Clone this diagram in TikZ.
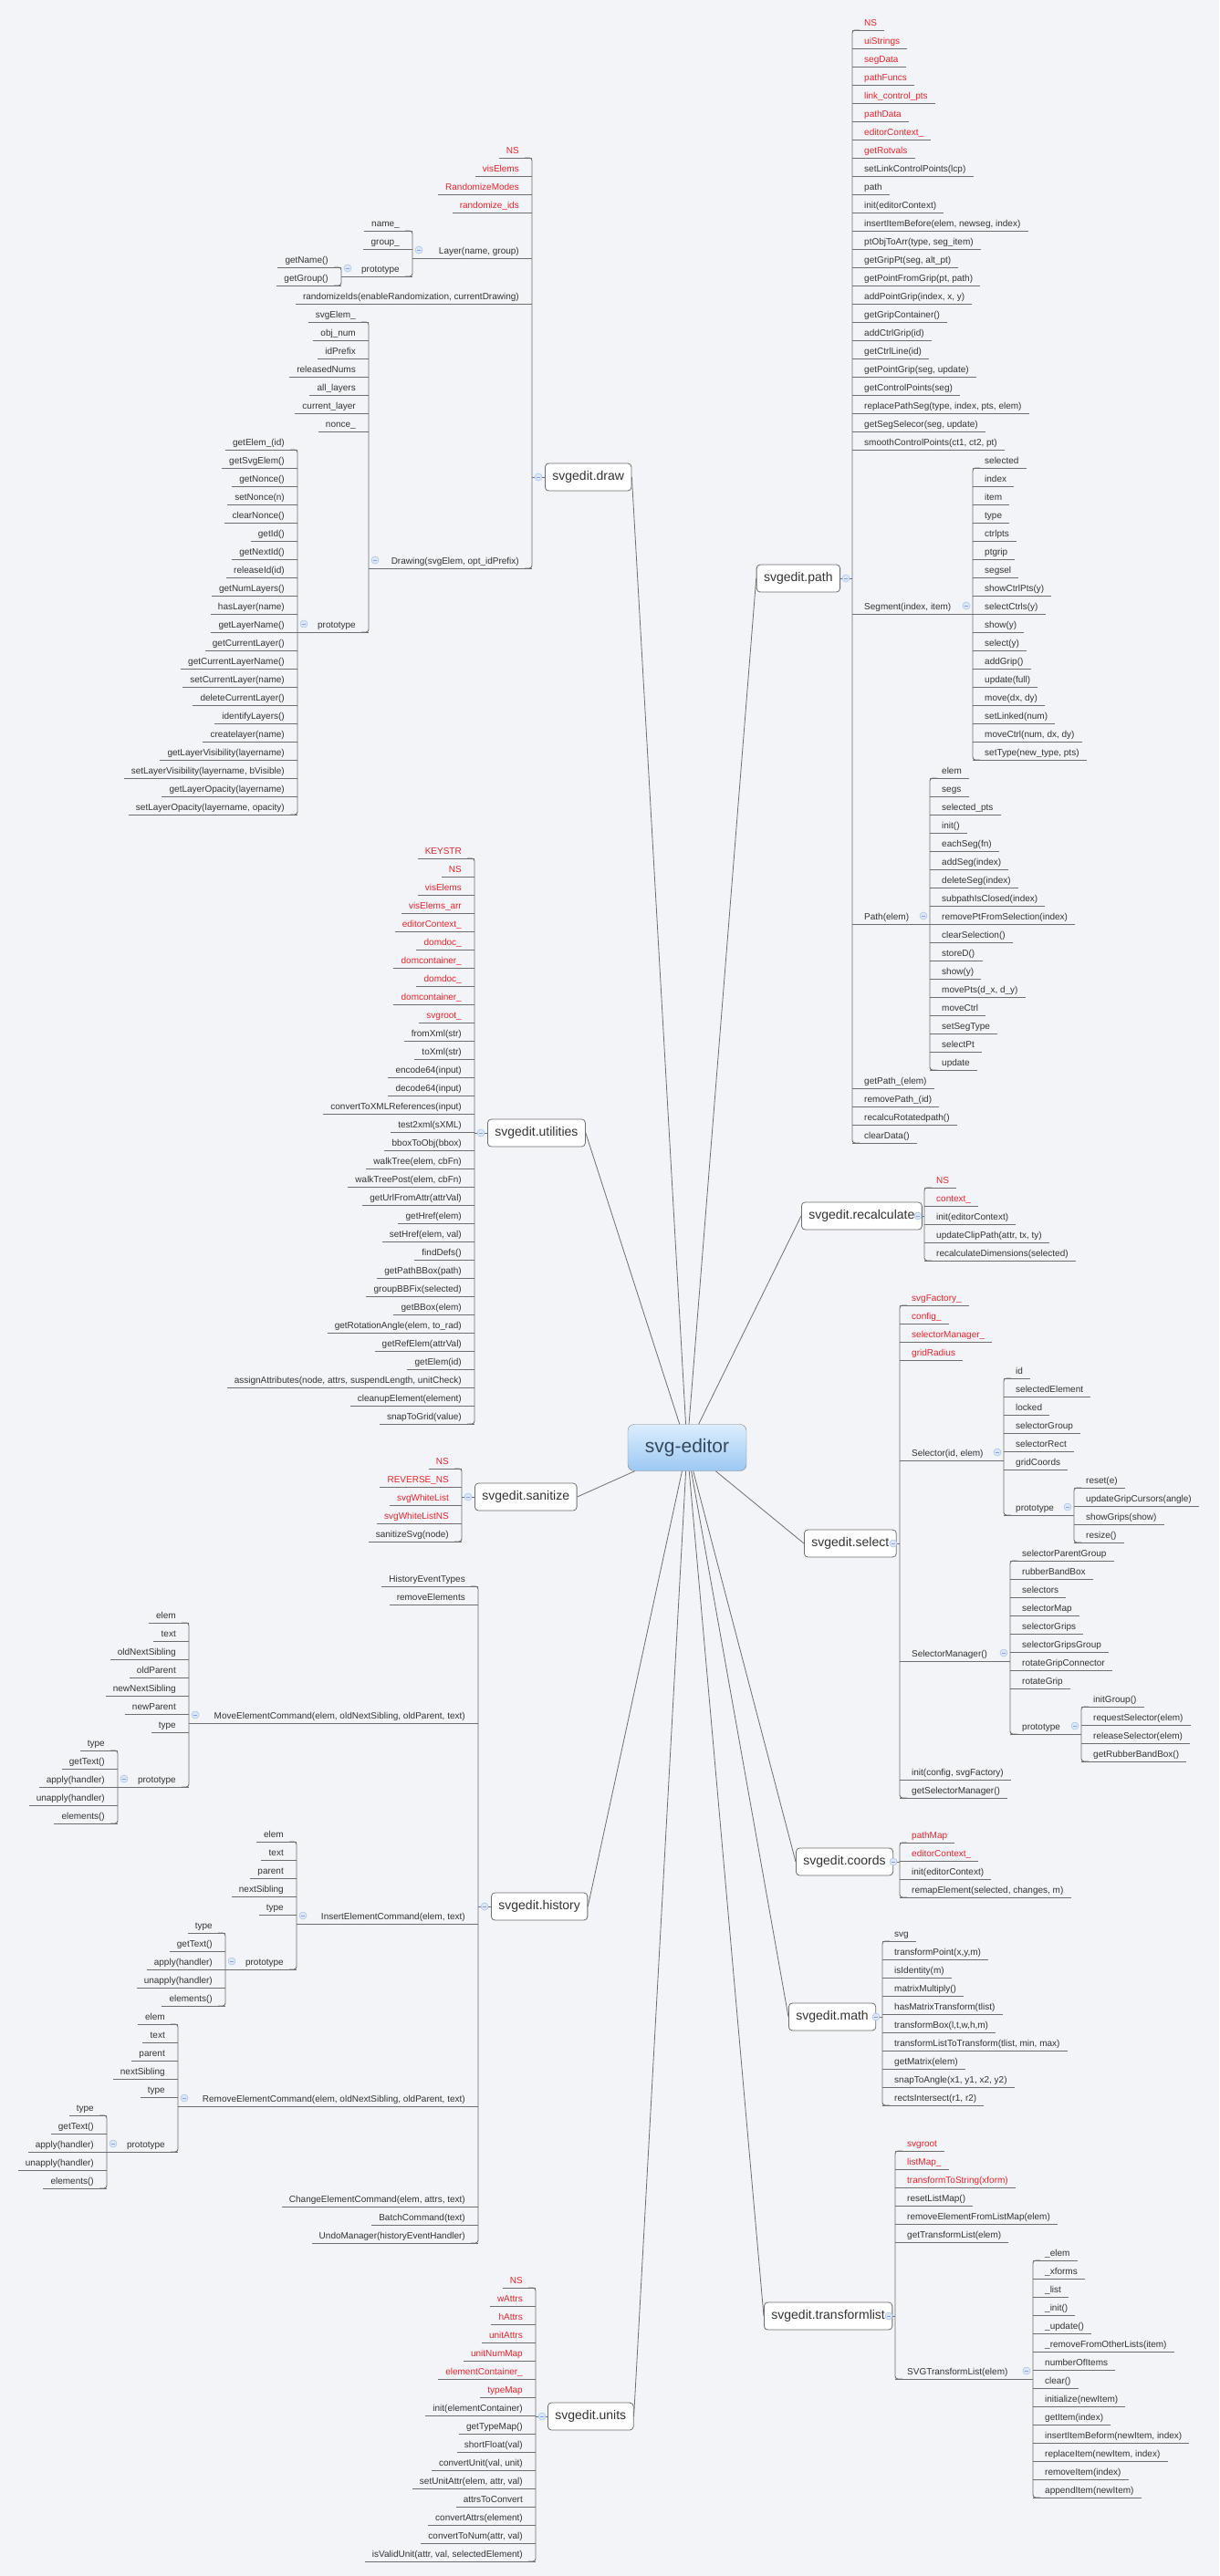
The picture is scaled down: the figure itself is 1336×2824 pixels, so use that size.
\documentclass[tikz,border=0pt]{standalone}
\usepackage{fontspec}
\setmainfont{Liberation Sans}
\usetikzlibrary{calc}
\definecolor{bg}{HTML}{F3F4F8}
\definecolor{itemred}{HTML}{E3242B}
\definecolor{itemblack}{HTML}{333333}
\definecolor{lncol}{HTML}{6E6E6E}
\definecolor{mkfill}{HTML}{DCE8F7}
\definecolor{mkdraw}{HTML}{A9C5E8}
\definecolor{roottop}{HTML}{DCEEFE}
\definecolor{rootbot}{HTML}{9CC8F2}
\definecolor{roottext}{HTML}{34485C}
\tikzset{
  ln/.style={draw=lncol,line width=0.9pt},
  item/.style={inner sep=0pt,font=\fontsize{10}{12}\selectfont},
  mk/.style={circle,minimum size=8pt,inner sep=0pt,fill=mkfill,draw=mkdraw,line width=0.6pt,
    path picture={\draw[mkdraw!80!blue,line width=0.7pt] ([xshift=-2.3pt]path picture bounding box.center) -- ([xshift=2.3pt]path picture bounding box.center);}},
  branch/.style={draw=lncol,fill=white,rounded corners=4pt,minimum height=30pt,inner xsep=8pt,font=\fontsize{14}{16}\selectfont,text=itemblack,line width=0.8pt},
  rootbox/.style={draw=black!50,rounded corners=7pt,minimum width=130pt,minimum height=51pt,top color=roottop,bottom color=rootbot,font=\fontsize{21}{24}\selectfont,text=roottext}
}
\newcommand\RL[5]{%
  \foreach \t [count=\i from 0] in {#5}{%
    \pgfmathtruncatemacro\uu{#3+20*\i}%
    \ifnum\i<#4\relax\colorlet{tc}{itemred}\else\colorlet{tc}{itemblack}\fi
    \node[item,text=tc,anchor=base west] (#1-\i) at (#2+13,\uu-5) {\t};
    \draw[ln] (#2,\uu) -- ($(#1-\i.base east)+(8,5)$);
  }}
\newcommand\LL[5]{%
  \foreach \t [count=\i from 0] in {#5}{%
    \pgfmathtruncatemacro\uu{#3+20*\i}%
    \ifnum\i<#4\relax\colorlet{tc}{itemred}\else\colorlet{tc}{itemblack}\fi
    \node[item,text=tc,anchor=base east] (#1-\i) at (#2-14,\uu-5) {\t};
    \draw[ln] (#2,\uu) -- ($(#1-\i.base west)+(-8,5)$);
  }}
\newcommand\Rp[5]{%
  \node[item,text=itemblack,anchor=base west] (#1) at (#2+13,#3-5) {#4};
  \draw[ln] (#2,#3) -- (#5,#3);
  \node[mk] (#1m) at (#5-7,#3-9) {};}
\newcommand\Lp[5]{%
  \node[item,text=itemblack,anchor=base east] (#1) at (#2-14,#3-5) {#4};
  \draw[ln] (#5,#3) -- (#2,#3);
  \node[mk] (#1m) at (#5+7,#3-9) {};}
\newcommand\BrR[3]{\draw[ln,rounded corners=3pt] (#1+8,#2) -- (#1,#2) -- (#1,#3) -- (#1+8,#3);}
\newcommand\BrL[3]{\draw[ln,rounded corners=3pt] (#1-8,#2) -- (#1,#2) -- (#1,#3) -- (#1-8,#3);}
\begin{document}
\begin{tikzpicture}[x=1pt,y=-1pt]
\useasboundingbox (0,0) rectangle (1336,2824);
\fill[bg] (0,0) rectangle (1336,2824);
\node[rootbox] (root) at (753,1587) {svg-editor};

% ---------- svgedit.draw (left)
\node[branch,anchor=west] (draw) at (597,523) {svgedit.draw};
\BrL{583}{173}{623}
\LL{d}{583}{173}{4}{NS,visElems,RandomizeModes,randomize\_ids}
\Lp{dlayer}{583}{283}{Layer(name, group)}{452}
\BrL{452}{253}{303}
\LL{dl}{452}{253}{0}{name\_,group\_}
\Lp{dlp}{452}{303}{prototype}{374}
\BrL{374}{293}{313}
\LL{dlpp}{374}{293}{0}{getName(),getGroup()}
\LL{dr}{583}{333}{0}{{randomizeIds(enableRandomization, currentDrawing)}}
\Lp{ddr}{583}{623}{Drawing(svgElem, opt\_idPrefix)}{404}
\BrL{404}{353}{693}
\LL{ddc}{404}{353}{0}{svgElem\_,obj\_num,idPrefix,releasedNums,all\_layers,current\_layer,nonce\_}
\Lp{ddp}{404}{693}{prototype}{326}
\BrL{326}{493}{893}
\LL{ddpp}{326}{493}{0}{getElem\_(id),getSvgElem(),getNonce(),setNonce(n),clearNonce(),getId(),getNextId(),releaseId(id),getNumLayers(),hasLayer(name),getLayerName(),getCurrentLayer(),getCurrentLayerName(),setCurrentLayer(name),deleteCurrentLayer(),identifyLayers(),createlayer(name),getLayerVisibility(layername),{setLayerVisibility(layername, bVisible)},getLayerOpacity(layername),{setLayerOpacity(layername, opacity)}}
\draw[ln] (draw.west) -- (583,523);
\node[mk] (drawm) at (590,523) {};

% ---------- svgedit.path (right)
\node[branch,anchor=east] (path) at (921,634) {svgedit.path};
\BrR{934}{33}{1253}
\RL{p}{934}{33}{8}{NS,uiStrings,segData,pathFuncs,link\_control\_pts,pathData,editorContext\_,getRotvals,setLinkControlPoints(lcp),path,init(editorContext),{insertItemBefore(elem, newseg, index)},{ptObjToArr(type, seg\_item)},{getGripPt(seg, alt\_pt)},{getPointFromGrip(pt, path)},{addPointGrip(index, x, y)},getGripContainer(),addCtrlGrip(id),getCtrlLine(id),{getPointGrip(seg, update)},getControlPoints(seg),{replacePathSeg(type, index, pts, elem)},{getSegSelecor(seg, update)},{smoothControlPoints(ct1, ct2, pt)}}
\Rp{pseg}{934}{673}{Segment(index, item)}{1066}
\BrR{1066}{513}{833}
\RL{psc}{1066}{513}{0}{selected,index,item,type,ctrlpts,ptgrip,segsel,showCtrlPts(y),selectCtrls(y),show(y),select(y),addGrip(),update(full),{move(dx, dy)},setLinked(num),{moveCtrl(num, dx, dy)},{setType(new\_type, pts)}}
\Rp{ppath}{934}{1013}{Path(elem)}{1019}
\BrR{1019}{853}{1173}
\RL{ppc}{1019}{853}{0}{elem,segs,selected\_pts,init(),eachSeg(fn),addSeg(index),deleteSeg(index),subpathIsClosed(index),removePtFromSelection(index),clearSelection(),storeD(),show(y),{movePts(d\_x, d\_y)},moveCtrl,setSegType,selectPt,update}
\RL{pend}{934}{1193}{0}{getPath\_(elem),removePath\_(id),recalcuRotatedpath(),clearData()}
\draw[ln] (path.east) -- (934,634);
\node[mk] (pathm) at (927,634) {};

% ---------- svgedit.recalculate (right)
\node[branch,anchor=west] (recalc) at (878,1333) {svgedit.recalculate};
\BrR{1013}{1302}{1382}
\RL{rc}{1013}{1302}{2}{NS,context\_,init(editorContext),{updateClipPath(attr, tx, ty)},recalculateDimensions(selected)}
\draw[ln] (recalc.east) -- (1013,1333);
\node[mk] (recalcm) at (1006,1333) {};

% ---------- svgedit.utilities (left)
\node[branch,anchor=west] (util) at (534,1242) {svgedit.utilities};
\BrL{520}{941}{1561}
\LL{ut}{520}{941}{10}{KEYSTR,NS,visElems,visElems\_arr,editorContext\_,domdoc\_,domcontainer\_,domdoc\_,domcontainer\_,svgroot\_,fromXml(str),toXml(str),encode64(input),decode64(input),convertToXMLReferences(input),test2xml(sXML),bboxToObj(bbox),{walkTree(elem, cbFn)},{walkTreePost(elem, cbFn)},getUrlFromAttr(attrVal),getHref(elem),{setHref(elem, val)},findDefs(),getPathBBox(path),groupBBFix(selected),getBBox(elem),{getRotationAngle(elem, to\_rad)},getRefElem(attrVal),getElem(id),{assignAttributes(node, attrs, suspendLength, unitCheck)},cleanupElement(element),snapToGrid(value)}
\draw[ln] (util.west) -- (520,1242);
\node[mk] (utilm) at (527,1242) {};

% ---------- svgedit.sanitize (left)
\node[branch,anchor=west] (sani) at (520,1641) {svgedit.sanitize};
\BrL{506}{1610}{1690}
\LL{sa}{506}{1610}{4}{NS,REVERSE\_NS,svgWhiteList,svgWhiteListNS,sanitizeSvg(node)}
\draw[ln] (sani.west) -- (506,1641);
\node[mk] (sanim) at (513,1641) {};

% ---------- svgedit.select (right)
\node[branch,anchor=west] (select) at (881,1692) {svgedit.select};
\BrR{986}{1431}{1971}
\RL{se}{986}{1431}{4}{svgFactory\_,config\_,selectorManager\_,gridRadius}
\Rp{sel}{986}{1601}{Selector(id, elem)}{1100}
\BrR{1100}{1511}{1661}
\RL{selc}{1100}{1511}{0}{id,selectedElement,locked,selectorGroup,selectorRect,gridCoords}
\Rp{selp}{1100}{1661}{prototype}{1177}
\BrR{1177}{1631}{1691}
\RL{selpp}{1177}{1631}{0}{reset(e),updateGripCursors(angle),showGrips(show),resize()}
\Rp{sm}{986}{1821}{SelectorManager()}{1107}
\BrR{1107}{1711}{1901}
\RL{smc}{1107}{1711}{0}{selectorParentGroup,rubberBandBox,selectors,selectorMap,selectorGrips,selectorGripsGroup,rotateGripConnector,rotateGrip}
\Rp{smp}{1107}{1901}{prototype}{1185}
\BrR{1185}{1871}{1931}
\RL{smpp}{1185}{1871}{0}{initGroup(),requestSelector(elem),releaseSelector(elem),getRubberBandBox()}
\RL{se2}{986}{1951}{0}{{init(config, svgFactory)},getSelectorManager()}
\draw[ln] (select.east) -- (986,1692);
\node[mk] (selectm) at (979,1692) {};

% ---------- svgedit.history (left)
\node[branch,anchor=west] (hist) at (538,2090) {svgedit.history};
\BrL{524}{1739}{2459}
\LL{h}{524}{1739}{0}{HistoryEventTypes,removeElements}
\Lp{hm}{524}{1889}{MoveElementCommand(elem, oldNextSibling, oldParent, text)}{207}
\BrL{207}{1779}{1959}
\LL{hmc}{207}{1779}{0}{elem,text,oldNextSibling,oldParent,newNextSibling,newParent,type}
\Lp{hmp}{207}{1959}{prototype}{129}
\BrL{129}{1919}{1999}
\LL{hmpp}{129}{1919}{0}{type,getText(),apply(handler),unapply(handler),elements()}
\Lp{hi}{524}{2109}{InsertElementCommand(elem, text)}{325}
\BrL{325}{2019}{2159}
\LL{hic}{325}{2019}{0}{elem,text,parent,nextSibling,type}
\Lp{hip}{325}{2159}{prototype}{247}
\BrL{247}{2119}{2199}
\LL{hipp}{247}{2119}{0}{type,getText(),apply(handler),unapply(handler),elements()}
\Lp{hr}{524}{2309}{RemoveElementCommand(elem, oldNextSibling, oldParent, text)}{195}
\BrL{195}{2219}{2359}
\LL{hrc}{195}{2219}{0}{elem,text,parent,nextSibling,type}
\Lp{hrp}{195}{2359}{prototype}{117}
\BrL{117}{2319}{2399}
\LL{hrpp}{117}{2319}{0}{type,getText(),apply(handler),unapply(handler),elements()}
\LL{h2}{524}{2419}{0}{{ChangeElementCommand(elem, attrs, text)},BatchCommand(text),UndoManager(historyEventHandler)}
\draw[ln] (hist.west) -- (524,2090);
\node[mk] (histm) at (531,2090) {};

% ---------- svgedit.coords (right)
\node[branch,anchor=west] (coords) at (872,2041) {svgedit.coords};
\BrR{986}{2020}{2080}
\RL{co}{986}{2020}{2}{pathMap,editorContext\_,init(editorContext),{remapElement(selected, changes, m)}}
\draw[ln] (coords.east) -- (986,2041);
\node[mk] (coordsm) at (979,2041) {};

% ---------- svgedit.math (right)
\node[branch,anchor=west] (math) at (864,2211) {svgedit.math};
\BrR{967}{2128}{2308}
\RL{ma}{967}{2128}{0}{svg,{transformPoint(x,y,m)},isIdentity(m),matrixMultiply(),hasMatrixTransform(tlist),{transformBox(l,t,w,h,m)},{transformListToTransform(tlist, min, max)},getMatrix(elem),{snapToAngle(x1, y1, x2, y2)},{rectsIntersect(r1, r2)}}
\draw[ln] (math.east) -- (967,2211);
\node[mk] (mathm) at (960,2211) {};

% ---------- svgedit.transformlist (right)
\node[branch,anchor=west] (tlist) at (837,2539) {svgedit.transformlist};
\BrR{981}{2358}{2608}
\RL{tl}{981}{2358}{3}{svgroot,listMap\_,transformToString(xform),resetListMap(),removeElementFromListMap(elem),getTransformList(elem)}
\Rp{tls}{981}{2608}{SVGTransformList(elem)}{1132}
\BrR{1132}{2478}{2738}
\RL{tlc}{1132}{2478}{0}{\_elem,\_xforms,\_list,\_init(),\_update(),\_removeFromOtherLists(item),numberOfItems,clear(),initialize(newItem),getItem(index),{insertItemBeform(newItem, index)},{replaceItem(newItem, index)},removeItem(index),appendItem(newItem)}
\draw[ln] (tlist.east) -- (981,2539);
\node[mk] (tlistm) at (974,2539) {};

% ---------- svgedit.units (left)
\node[branch,anchor=west] (units) at (600,2649) {svgedit.units};
\BrL{587}{2508}{2808}
\LL{un}{587}{2508}{7}{NS,wAttrs,hAttrs,unitAttrs,unitNumMap,elementContainer\_,typeMap,init(elementContainer),getTypeMap(),shortFloat(val),{convertUnit(val, unit)},{setUnitAttr(elem, attr, val)},attrsToConvert,convertAttrs(element),{convertToNum(attr, val)},{isValidUnit(attr, val, selectedElement)}}
\draw[ln] (units.west) -- (587,2649);
\node[mk] (unitsm) at (594,2649) {};

% ---------- root connectors
\foreach \b/\a in {draw/east,util/east,sani/east,hist/east,units/east,path/west,recalc/west,select/west,coords/west,math/west,tlist/west}
  \draw[ln,line width=0.8pt] (root) -- (\b.\a);
\end{tikzpicture}
\end{document}
